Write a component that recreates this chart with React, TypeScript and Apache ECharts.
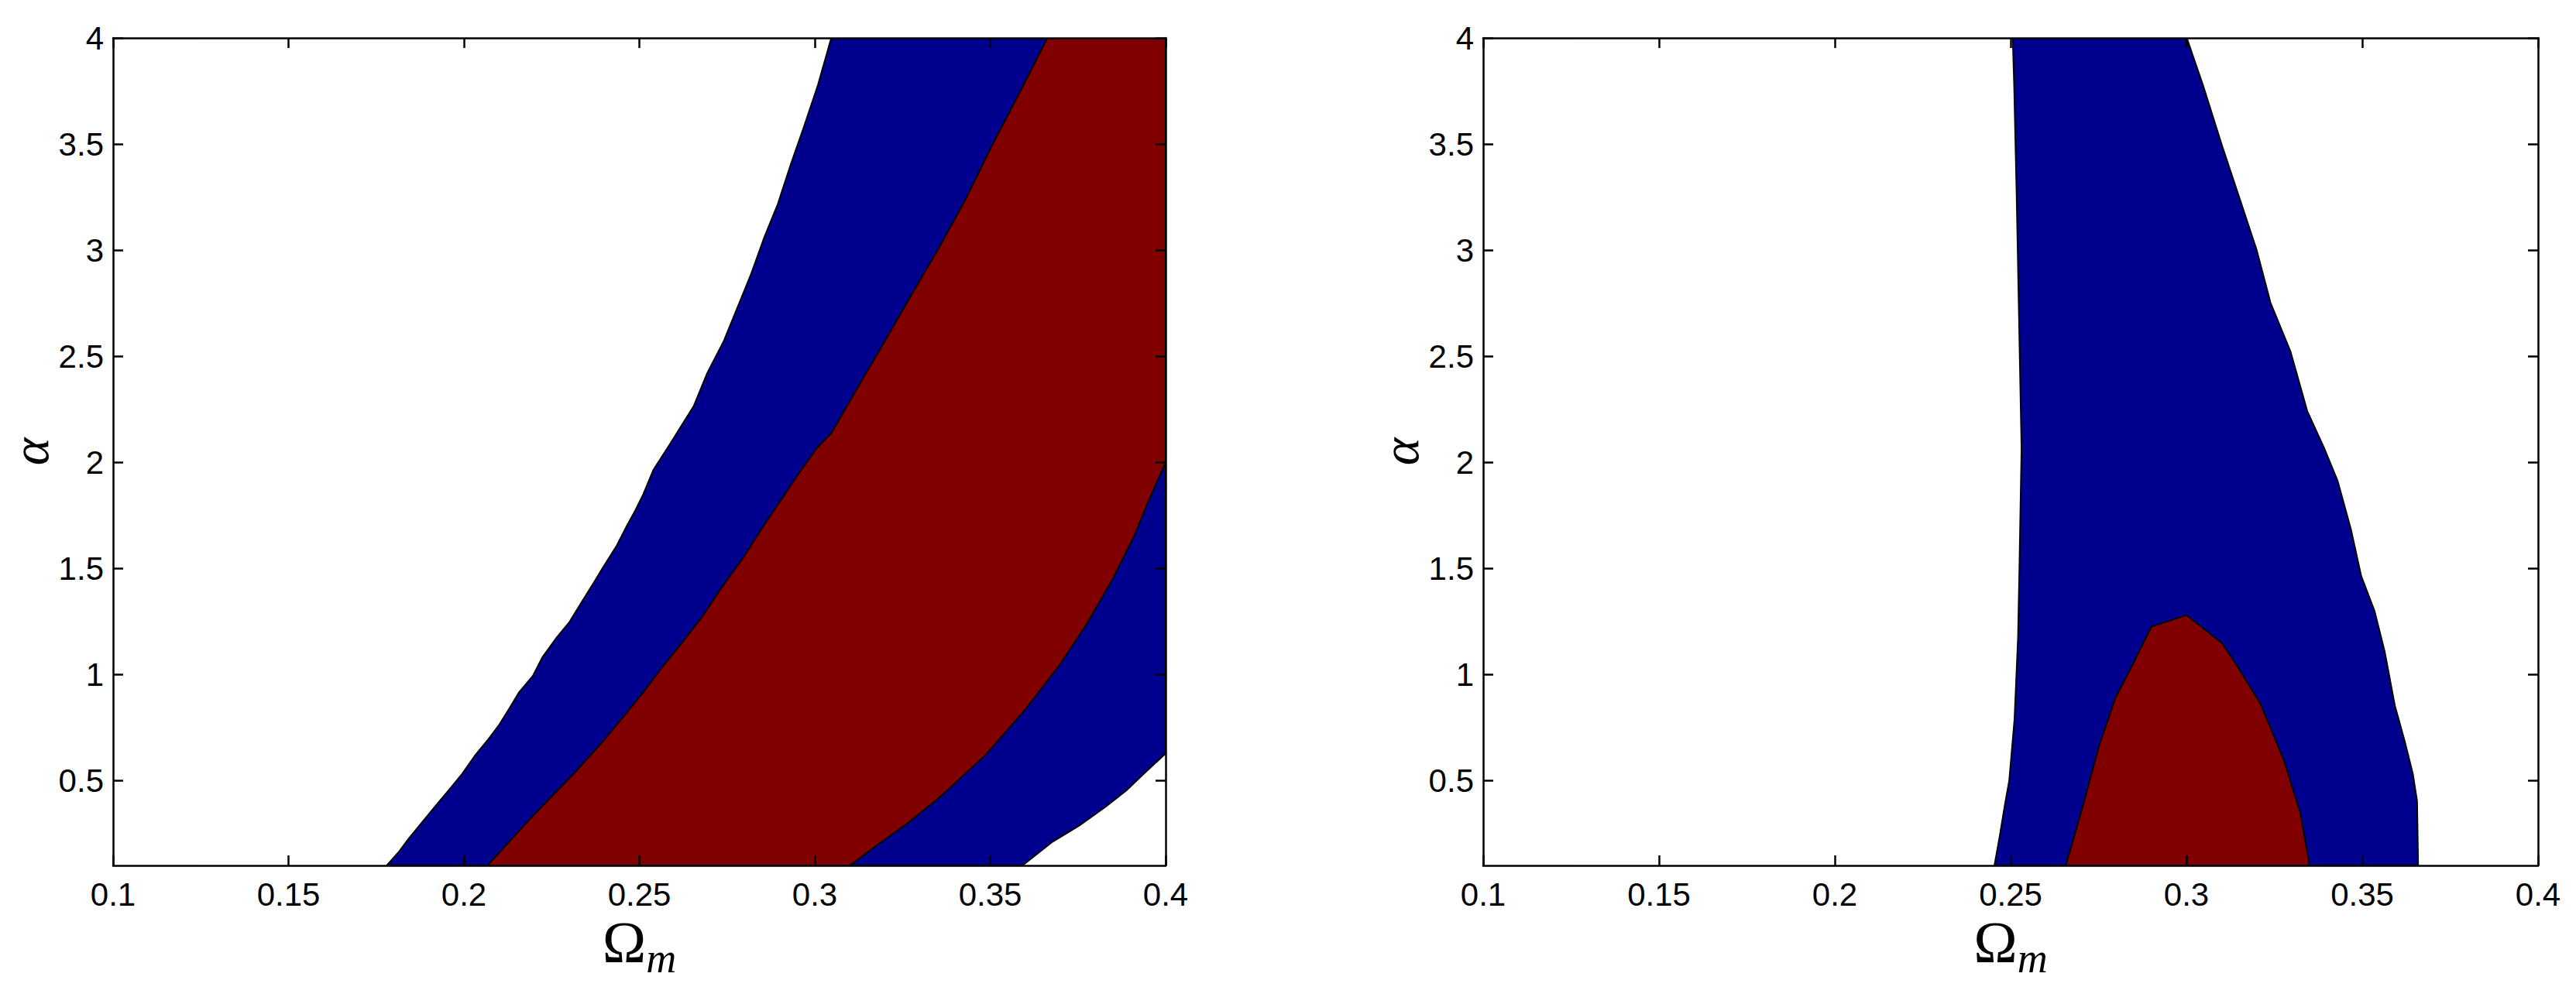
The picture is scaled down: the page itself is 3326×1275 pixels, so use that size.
import React, { useEffect, useRef } from "react";
import * as echarts from "echarts";

// ---- axis ranges & ticks ----
const xMin = 0.1;
const xMax = 0.4;
const xStep = 0.05;
const yMin = 0.1;
const yMax = 4;
const yTicks = [0.5, 1, 1.5, 2, 2.5, 3, 3.5, 4];

// ---- left panel: contour boundaries [Omega_m, alpha] ----
const leftBlueLeftEdge = [
  [0.178, 0.1], [0.1813, 0.161], [0.1842, 0.225], [0.188, 0.302], [0.1918, 0.379],
  [0.1957, 0.455], [0.1995, 0.532], [0.2033, 0.621], [0.2071, 0.698], [0.21, 0.762],
  [0.2129, 0.839], [0.2157, 0.916], [0.2196, 0.992], [0.2224, 1.082], [0.2263, 1.171],
  [0.2301, 1.248], [0.2339, 1.35], [0.2368, 1.427], [0.2396, 1.504], [0.2435, 1.606],
  [0.2463, 1.696], [0.2488, 1.772], [0.2511, 1.849], [0.254, 1.964], [0.2585, 2.08],
  [0.2655, 2.265], [0.2693, 2.419], [0.2741, 2.573], [0.2779, 2.727], [0.2817, 2.881],
  [0.2856, 3.06], [0.2894, 3.214], [0.2932, 3.406], [0.297, 3.586], [0.3009, 3.778],
  [0.3047, 4.0],
];
const leftBlueRightEdge = [
  [0.4, 0.628], [0.3946, 0.545], [0.3889, 0.455], [0.3831, 0.379], [0.3755, 0.289],
  [0.3678, 0.212], [0.3592, 0.1],
];
const leftRedLeftEdge = [
  [0.2067, 0.1], [0.2129, 0.212], [0.2186, 0.315], [0.2253, 0.43], [0.232, 0.545],
  [0.2396, 0.685], [0.2454, 0.8], [0.2511, 0.916], [0.2569, 1.043], [0.2626, 1.159],
  [0.268, 1.274], [0.2731, 1.402], [0.2798, 1.555], [0.2852, 1.696], [0.2951, 1.939],
  [0.3005, 2.066], [0.3047, 2.137], [0.3123, 2.355], [0.32, 2.573], [0.3276, 2.791],
  [0.3353, 3.009], [0.343, 3.24], [0.3506, 3.496], [0.3583, 3.74], [0.3663, 4.0],
];
const leftRedRightEdge = [
  [0.4, 2.0], [0.3956, 1.836], [0.3908, 1.645], [0.385, 1.453], [0.3774, 1.235],
  [0.3697, 1.043], [0.3602, 0.839], [0.3487, 0.621], [0.3353, 0.417], [0.3267, 0.302],
  [0.3181, 0.2], [0.31, 0.1],
];

// ---- right panel ----
const rightBlueLeftEdge = [
  [0.2454, 0.1], [0.2469, 0.238], [0.2483, 0.379], [0.2496, 0.5], [0.2511, 0.788],
  [0.2521, 1.171], [0.2525, 1.5], [0.2531, 2.066], [0.2523, 2.753], [0.2517, 3.265],
  [0.251, 3.778], [0.2506, 4.0],
];
const rightBlueRightEdge = [
  [0.3001, 4.0], [0.3047, 3.778], [0.31, 3.499], [0.3147, 3.265], [0.32, 2.999],
  [0.3239, 2.753], [0.3296, 2.522], [0.3344, 2.24], [0.3392, 2.066], [0.343, 1.913],
  [0.3468, 1.683], [0.3497, 1.465], [0.3535, 1.299], [0.3564, 1.107], [0.3593, 0.852],
  [0.3621, 0.685], [0.3644, 0.532], [0.3656, 0.404], [0.3659, 0.1],
];
const rightRedDome = [
  [0.2657, 0.1], [0.2703, 0.366], [0.2751, 0.66], [0.2798, 0.89], [0.2846, 1.043],
  [0.29, 1.225], [0.3, 1.28], [0.3101, 1.148], [0.3143, 1.043], [0.321, 0.864],
  [0.3277, 0.596], [0.3325, 0.34], [0.335, 0.1],
];

const BLUE = "#00008f";
const RED = "#800000";
const SANS = "'Liberation Sans', Arial, Helvetica, sans-serif";
const SERIF = "'Liberation Serif', 'Times New Roman', serif";

const AXIS_W = 2.5;

function xAxesFor(gridIndex: number) {
  const base: any = {
    type: "value",
    gridIndex,
    min: xMin,
    max: xMax,
    interval: xStep,
    z: 10,
    splitLine: { show: false },
    axisLine: { show: true, onZero: false, lineStyle: { color: "#000", width: AXIS_W } },
    axisTick: { show: true, inside: true, length: 13, lineStyle: { color: "#000", width: AXIS_W } },
  };
  return [
    {
      ...base,
      position: "bottom",
      name: "{o|Ω}{m|m}",
      nameLocation: "middle",
      nameGap: 71,
      nameMoveOverlap: false,
      nameTextStyle: {
        rich: {
          o: { fontFamily: SERIF, fontSize: 76, lineHeight: 56, color: "#000" },
          m: {
            fontFamily: SERIF,
            fontStyle: "italic",
            fontSize: 54,
            lineHeight: 40,
            color: "#000",
            padding: [41, 0, 0, 0],
          },
        },
      },
      axisLabel: {
        show: true,
        margin: 16,
        fontSize: 42,
        fontFamily: SANS,
        color: "#000",
        formatter: (v: number) => String(Math.round(v * 100) / 100),
      },
    },
    { ...base, position: "top", axisLabel: { show: false } },
  ];
}

function yAxesFor(gridIndex: number) {
  const base: any = {
    type: "value",
    gridIndex,
    min: yMin,
    max: yMax,
    z: 10,
    splitLine: { show: false },
    axisLine: { show: true, onZero: false, lineStyle: { color: "#000", width: AXIS_W } },
    axisTick: {
      show: true,
      inside: true,
      length: 13,
      customValues: yTicks,
      lineStyle: { color: "#000", width: AXIS_W },
    },
  };
  return [
    {
      ...base,
      position: "left",
      name: "α",
      nameLocation: "middle",
      nameGap: 77,
      nameRotate: 90,
      nameMoveOverlap: false,
      nameTextStyle: { fontFamily: SERIF, fontStyle: "italic", fontSize: 68, lineHeight: 60, color: "#000" },
      axisLabel: {
        show: true,
        margin: 12,
        fontSize: 42,
        fontFamily: SANS,
        color: "#000",
        customValues: yTicks,
        formatter: (v: number) => String(v),
      },
    },
    { ...base, position: "right", axisLabel: { show: false } },
  ];
}

function region(points: number[][], color: string, axisIndex: number, z: number) {
  return {
    type: "custom",
    xAxisIndex: axisIndex,
    yAxisIndex: axisIndex,
    data: [0],
    clip: true,
    silent: true,
    z,
    renderItem: (_params: any, api: any) => ({
      type: "polygon",
      shape: { points: points.map((p) => api.coord(p)) },
      style: { fill: color, stroke: "#000", lineWidth: 2 },
    }),
  };
}

export default function App() {
  const ref = useRef<HTMLDivElement>(null);
  useEffect(() => {
    if (!ref.current) return;
    const chart = echarts.init(ref.current, null, { renderer: "svg" });
    const leftBlue = [...leftBlueLeftEdge, [xMax, yMax], ...leftBlueRightEdge];
    const leftRed = [...leftRedLeftEdge, [xMax, yMax], ...leftRedRightEdge];
    const rightBlue = [...rightBlueLeftEdge, ...rightBlueRightEdge];
    const xa = [...xAxesFor(0), ...xAxesFor(1)];
    const ya = [...yAxesFor(0), ...yAxesFor(1)];
    chart.setOption({
      animation: false,
      backgroundColor: "#fff",
      grid: [
        { left: 146, top: 49, width: 1359, height: 1069, containLabel: false, outerBoundsMode: "none" },
        { left: 1915, top: 49, width: 1362, height: 1069, containLabel: false, outerBoundsMode: "none" },
      ],
      xAxis: xa,
      yAxis: ya,
      series: [
        region(leftBlue, BLUE, 0, 2),
        region(leftRed, RED, 0, 3),
        region(rightBlue, BLUE, 2, 2),
        region(rightRedDome, RED, 2, 3),
      ],
    });
    return () => chart.dispose();
  }, []);
  return (
    <div
      ref={ref}
      style={{ position: "fixed", left: 0, top: 0, width: 3326, height: 1275, background: "#fff" }}
    />
  );
}
